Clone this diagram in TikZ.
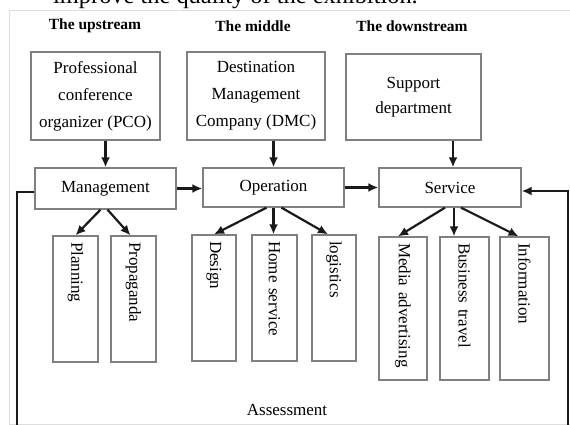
\documentclass[tikz,border=0pt]{standalone}
\usepackage{fontspec}
\setmainfont{Liberation Serif}
\usetikzlibrary{arrows.meta}
\definecolor{C808080}{HTML}{808080}
\definecolor{CDDDDDD}{HTML}{DDDDDD}
\definecolor{C1A1A1A}{HTML}{1A1A1A}

\begin{document}
\begin{tikzpicture}[inner sep=0pt,
  head/.style={font=\bfseries\fontsize{15.5}{18}\selectfont},
  box/.style={draw=C808080, line width=1.3pt, align=center, font=\fontsize{17}{27}\selectfont},
  vbox/.style={box, rotate=-90, align=left, inner xsep=6pt},
  link/.style={-{Latex[length=10pt,width=9pt]}, line width=2.2pt, draw=C1A1A1A}]
\useasboundingbox (0pt,0pt) rectangle (570pt,-425pt);
\draw [CDDDDDD, line width=1pt] (9pt,-11pt) rectangle (600pt,-424pt);
\node (n18) [anchor=base west, at={(53pt,-3.5pt)}, font=\fontsize{24.4}{28}\selectfont] {improve the quality of the exhibition.};

\node (n0) [head, at={(95pt,-26pt)}] {The upstream};
\node (n1) [head, at={(253pt,-26pt)}] {The middle};
\node (n2) [head, at={(412pt,-26pt)}] {The downstream};

\node (n3) [box, minimum width=129pt, minimum height=88pt, at={(95.5pt,-96pt)}] {Professional\\conference\\organizer (PCO)};
\node (n4) [box, minimum width=138pt, minimum height=88pt, at={(256pt,-96pt)}] {Destination\\Management\\Company (DMC)};
\node (n5) [box, minimum width=135pt, minimum height=86pt, at={(413.5pt,-97pt)}, font=\fontsize{17}{25}\selectfont] {Support\\department};

\node (n6) [box, minimum width=141pt, minimum height=41pt, at={(105.5pt,-188.5pt)}] {Management};
\node (n7) [box, minimum width=141pt, minimum height=39pt, at={(273.5pt,-187.5pt)}] {Operation};
\node (n8) [box, minimum width=142pt, minimum height=39pt, at={(450pt,-187.5pt)}] {Service};

% rotated boxes: west anchor is the top edge
\node (n9) [vbox, text width=114pt, minimum height=45pt, at={(75.5pt,-299pt)}] {Planning};
\node (n10) [vbox, text width=114pt, minimum height=45pt, at={(133.5pt,-299pt)}] {Propaganda};
\node (n11) [vbox, text width=114pt, minimum height=44pt, at={(214pt,-298pt)}] {Design};
\node (n12) [vbox, text width=114pt, minimum height=45pt, at={(274.5pt,-298pt)}] {Home service};
\node (n13) [vbox, text width=114pt, minimum height=44pt, at={(334pt,-298pt)}] {logistics};
\node (n14) [vbox, text width=131pt, minimum height=48pt, at={(403pt,-308.5pt)}] {Media advertising};
\node (n15) [vbox, text width=131pt, minimum height=49pt, at={(464.5pt,-308.5pt)}] {Business travel};
\node (n16) [vbox, text width=131pt, minimum height=49pt, at={(524.5pt,-308.5pt)}] {Information};

\node (n17) [at={(287pt,-410pt)}, font=\fontsize{17}{20}\selectfont] {Assessment};

\coordinate (c0) at (17pt,-445pt);
\coordinate (c1) at (568pt,-445pt);

\path [link](n3.south -| n6.north)--(n6.north);
\path [link](n4.south -| n7.north)--(n7.north);
\path [link]([xshift=3pt]n5.south -| n8.north)--([xshift=3pt]n8.north);
\path [link](n6.east)--(n6.east -| n7.west);
\path [link](n7.east)--(n7.east -| n8.west);
\path [link]([xshift=-5pt]n6.south)--(n9.west);
\path [link]([xshift=2pt]n6.south)--([xshift=-3pt]n10.west);
\path [link]([xshift=-7pt]n7.south)--(n11.west);
\path [link](n7.south)--(n7.south |- n12.west);
\path [link]([xshift=8pt]n7.south)--([xshift=-6pt]n13.west);
\path [link]([xshift=-5pt]n8.south)--([xshift=-5pt]n14.west);
\path [link]([xshift=4pt]n8.south)--([xshift=4pt]n8.south |- n15.west);
\path [link]([xshift=11pt]n8.south)--([xshift=-6pt]n16.west);
\path [link]([yshift=-3.5pt]n6.west) -| (c0) -- (c1) |- ([yshift=-3.5pt]n8.east);
\end{tikzpicture}
\end{document}
